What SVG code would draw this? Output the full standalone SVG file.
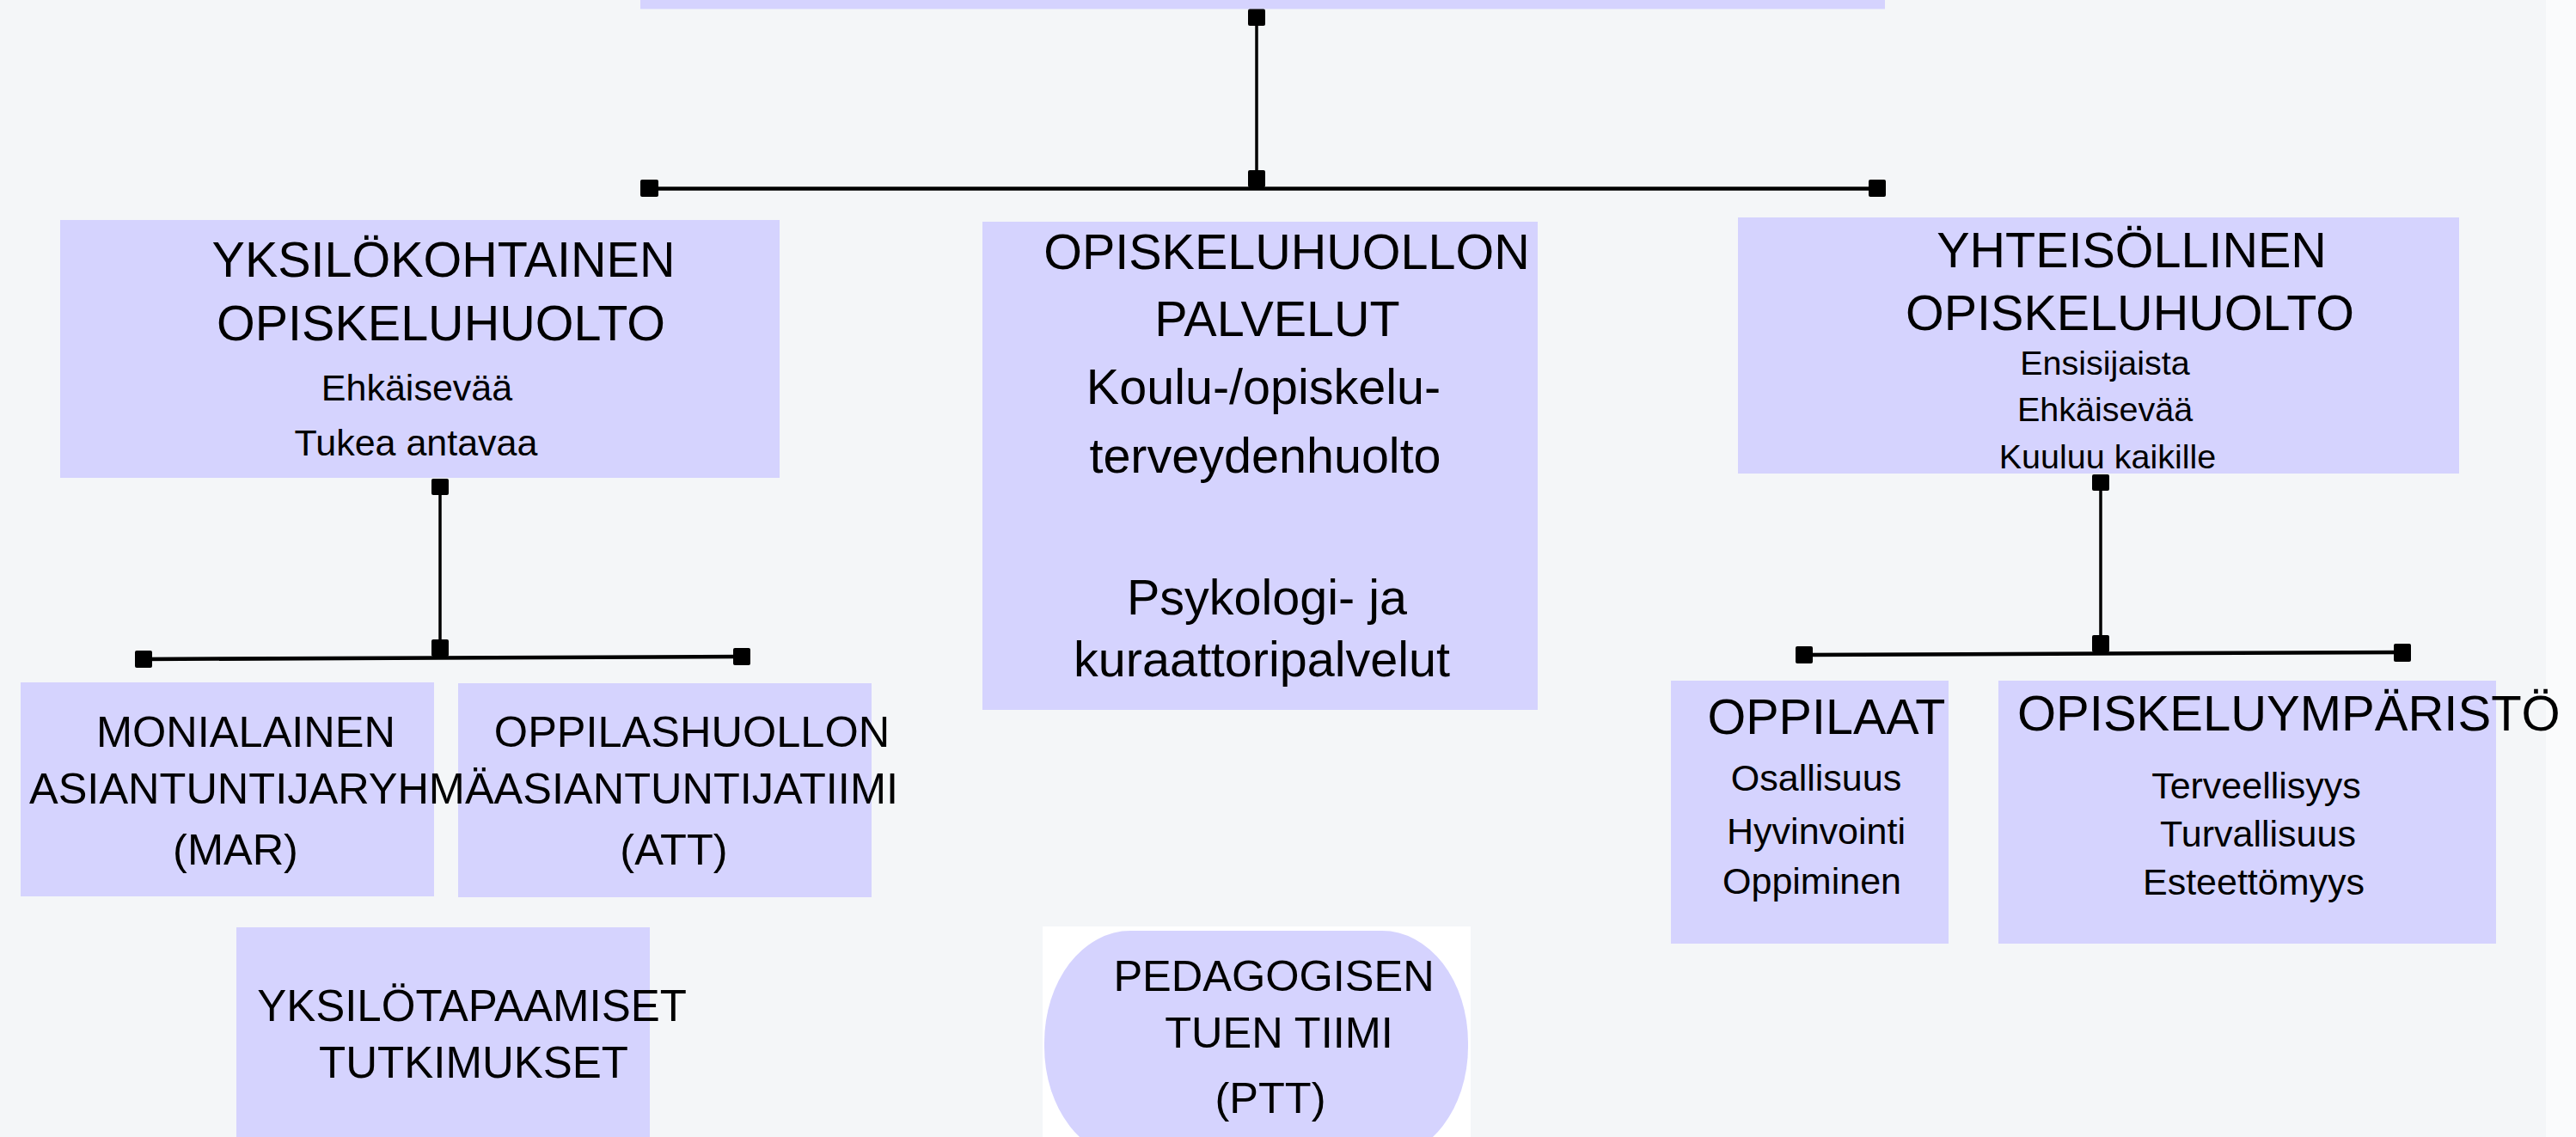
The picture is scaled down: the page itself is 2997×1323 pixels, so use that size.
<svg xmlns="http://www.w3.org/2000/svg" width="2997" height="1323" viewBox="0 0 2997 1323">
<style>
  .box { fill: #d5d3fe; }
  .t { font-family: "Liberation Sans", Arial, sans-serif; fill: #000; text-anchor: middle; }
  .big { font-size: 57.5px; }
  .mid { font-size: 50.5px; }
  .sm { font-size: 43px; }
  .xs { font-size: 39.5px; }
  .vline { stroke: #000; stroke-width: 3.5; fill: none; }
  .hline { stroke: #000; stroke-width: 4.5; fill: none; }
  .sq { fill: #000; }
</style>
<rect x="0" y="0" width="2997" height="1323" fill="#f4f6f8"/>
<rect x="2962" y="0" width="35" height="1323" fill="#fafbfc"/>

<g id="top-node">
  <rect class="box" x="745" y="0" width="1448" height="10.5"/>
</g>

<g id="yksilokohtainen">
  <rect class="box" x="70" y="256" width="837" height="300"/>
  <text class="t big" x="516" y="322">YKSILÖKOHTAINEN</text>
  <text class="t big" x="513" y="396">OPISKELUHUOLTO</text>
  <text class="t sm" x="485" y="466">Ehkäisevää</text>
  <text class="t sm" x="484" y="530">Tukea antavaa</text>
</g>

<g id="palvelut">
  <rect class="box" x="1143" y="258" width="646" height="568"/>
  <text class="t big" x="1497" y="313">OPISKELUHUOLLON</text>
  <text class="t big" x="1486" y="391">PALVELUT</text>
  <text class="t big" x="1470" y="470">Koulu-/opiskelu-</text>
  <text class="t big" x="1472" y="550">terveydenhuolto</text>
  <text class="t big" x="1474" y="715">Psykologi- ja</text>
  <text class="t big" x="1468" y="787">kuraattoripalvelut</text>
</g>

<g id="yhteisollinen">
  <rect class="box" x="2022" y="253" width="839" height="298"/>
  <text class="t big" x="2480" y="311">YHTEISÖLLINEN</text>
  <text class="t big" x="2478" y="384">OPISKELUHUOLTO</text>
  <text class="t xs" x="2449" y="436">Ensisijaista</text>
  <text class="t xs" x="2449" y="490">Ehkäisevää</text>
  <text class="t xs" x="2452" y="545">Kuuluu kaikille</text>
</g>

<g id="att">
  <rect class="box" x="533" y="795" width="481" height="249"/>
  <text class="t mid" x="805" y="869">OPPILASHUOLLON</text>
  <text class="t mid" x="1045" y="935" style="text-anchor:end">ASIANTUNTIJATIIMI</text>
  <text class="t mid" x="784" y="1006">(ATT)</text>
</g>

<g id="mar">
  <rect class="box" x="24" y="794" width="481" height="249"/>
  <text class="t mid" x="286" y="869">MONIALAINEN</text>
  <text class="t mid" x="34" y="935" style="text-anchor:start">ASIANTUNTIJARYHMÄ</text>
  <text class="t mid" x="274" y="1006">(MAR)</text>
</g>

<g id="yksilotapaamiset">
  <rect class="box" x="275" y="1079" width="481" height="250"/>
  <text class="t mid" x="549" y="1188" style="font-size:51px">YKSILÖTAPAAMISET</text>
  <text class="t mid" x="551" y="1254" style="font-size:51px">TUTKIMUKSET</text>
</g>

<g id="ptt">
  <rect x="1213" y="1078" width="498" height="250" fill="#ffffff"/>
  <rect class="box" x="1215" y="1083" width="493" height="265" rx="100" ry="130"/>
  <text class="t mid" x="1482" y="1153">PEDAGOGISEN</text>
  <text class="t mid" x="1488" y="1219">TUEN TIIMI</text>
  <text class="t mid" x="1478" y="1295">(PTT)</text>
</g>

<g id="oppilaat">
  <rect class="box" x="1944" y="792" width="323" height="306"/>
  <text class="t big" x="2125" y="854">OPPILAAT</text>
  <text class="t sm" x="2113" y="920">Osallisuus</text>
  <text class="t sm" x="2113" y="982">Hyvinvointi</text>
  <text class="t sm" x="2108" y="1040">Oppiminen</text>
</g>

<g id="opiskeluymparisto">
  <rect class="box" x="2325" y="792" width="579" height="306"/>
  <text class="t big" x="2347" y="850" style="text-anchor:start;font-size:58px">OPISKELUYMPÄRISTÖ</text>
  <text class="t sm" x="2625" y="929">Terveellisyys</text>
  <text class="t sm" x="2627" y="985">Turvallisuus</text>
  <text class="t sm" x="2622" y="1041">Esteettömyys</text>
</g>

<g id="connectors">
  <line class="vline" x1="1462" y1="20" x2="1462" y2="208"/>
  <line class="hline" x1="755" y1="219.5" x2="2184" y2="219.5"/>
  <rect class="sq" x="1452" y="10.5" width="20" height="19.5" rx="2"/>
  <rect class="sq" x="1452" y="198" width="20" height="20" rx="2"/>
  <rect class="sq" x="745" y="209" width="21" height="20" rx="2"/>
  <rect class="sq" x="2174" y="209" width="20" height="20" rx="2"/>

  <line class="vline" x1="512" y1="566" x2="512" y2="754"/>
  <line class="hline" x1="167" y1="767" x2="863" y2="764"/>
  <rect class="sq" x="502" y="557" width="20" height="19" rx="2"/>
  <rect class="sq" x="502" y="744" width="20" height="20" rx="2"/>
  <rect class="sq" x="157" y="757" width="20" height="20" rx="2"/>
  <rect class="sq" x="853" y="754" width="20" height="20" rx="2"/>

  <line class="vline" x1="2444" y1="561" x2="2444" y2="749"/>
  <line class="hline" x1="2099" y1="762" x2="2795" y2="759"/>
  <rect class="sq" x="2434" y="552" width="20" height="19" rx="2"/>
  <rect class="sq" x="2434" y="739" width="20" height="20" rx="2"/>
  <rect class="sq" x="2089" y="752" width="20" height="20" rx="2"/>
  <rect class="sq" x="2785" y="749" width="20" height="21" rx="2"/>
</g>
</svg>
